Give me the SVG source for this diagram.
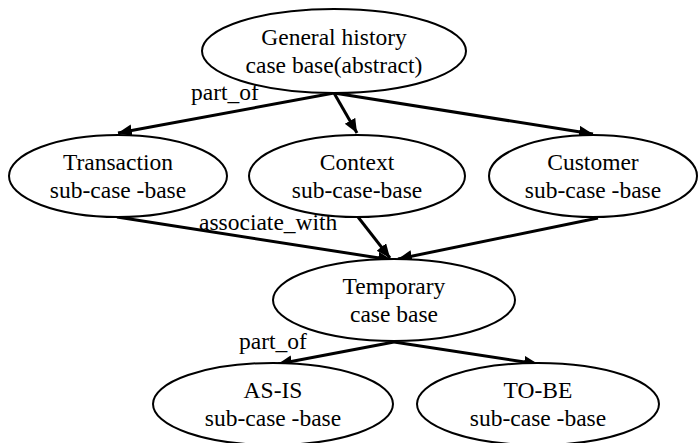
<svg xmlns="http://www.w3.org/2000/svg" width="699" height="443" viewBox="0 0 699 443">
<style>
.n ellipse{fill:#fff;stroke:#000;stroke-width:2}
text{font-family:"Liberation Serif","Times New Roman",serif;font-size:23.5px;fill:#000;text-anchor:middle}
.lbl{text-anchor:start}
.e line{stroke:#000;stroke-width:3;marker-end:url(#ah)}
</style>
<defs>
<marker id="ah" markerUnits="userSpaceOnUse" markerWidth="16" markerHeight="14" refX="14" refY="6" orient="auto">
<path d="M0,0 L14,6 L0,12 Z" fill="#000"/>
</marker>
</defs>
<rect width="699" height="443" fill="#fff"/>
<g id="edges" class="e">
<line x1="334" y1="93" x2="118" y2="133"/>
<line x1="334" y1="93" x2="357" y2="133"/>
<line x1="334" y1="93" x2="593" y2="134"/>
<line x1="117" y1="217" x2="392" y2="260"/>
<line x1="358" y1="217" x2="390" y2="258"/>
<line x1="598" y1="218" x2="398" y2="259"/>
<line x1="394" y1="342" x2="278" y2="364"/>
<line x1="394" y1="342" x2="538" y2="364"/>
<text class="lbl" x="191" y="100">part_of</text>
<text class="lbl" x="199" y="230">associate_with</text>
<text class="lbl" x="239" y="349">part_of</text>
</g>
<g id="general" class="n"><ellipse cx="334" cy="51" rx="132" ry="42"/><text x="334" y="45">General history</text><text x="334" y="73">case base(abstract)</text></g>
<g id="transaction" class="n"><ellipse cx="118" cy="176" rx="109" ry="41"/><text x="118" y="170">Transaction</text><text x="118" y="198">sub-case -base</text></g>
<g id="context" class="n"><ellipse cx="357" cy="176" rx="108" ry="41"/><text x="357" y="170">Context</text><text x="357" y="198">sub-case-base</text></g>
<g id="customer" class="n"><ellipse cx="593" cy="176" rx="104" ry="41"/><text x="593" y="170">Customer</text><text x="593" y="198">sub-case -base</text></g>
<g id="temporary" class="n"><ellipse cx="394" cy="300" rx="121" ry="41"/><text x="394" y="294">Temporary</text><text x="394" y="322">case base</text></g>
<g id="asis" class="n"><ellipse cx="273" cy="404" rx="120" ry="41"/><text x="273" y="398">AS-IS</text><text x="273" y="426">sub-case -base</text></g>
<g id="tobe" class="n"><ellipse cx="538" cy="404" rx="121" ry="41"/><text x="538" y="398">TO-BE</text><text x="538" y="426">sub-case -base</text></g>
</svg>
